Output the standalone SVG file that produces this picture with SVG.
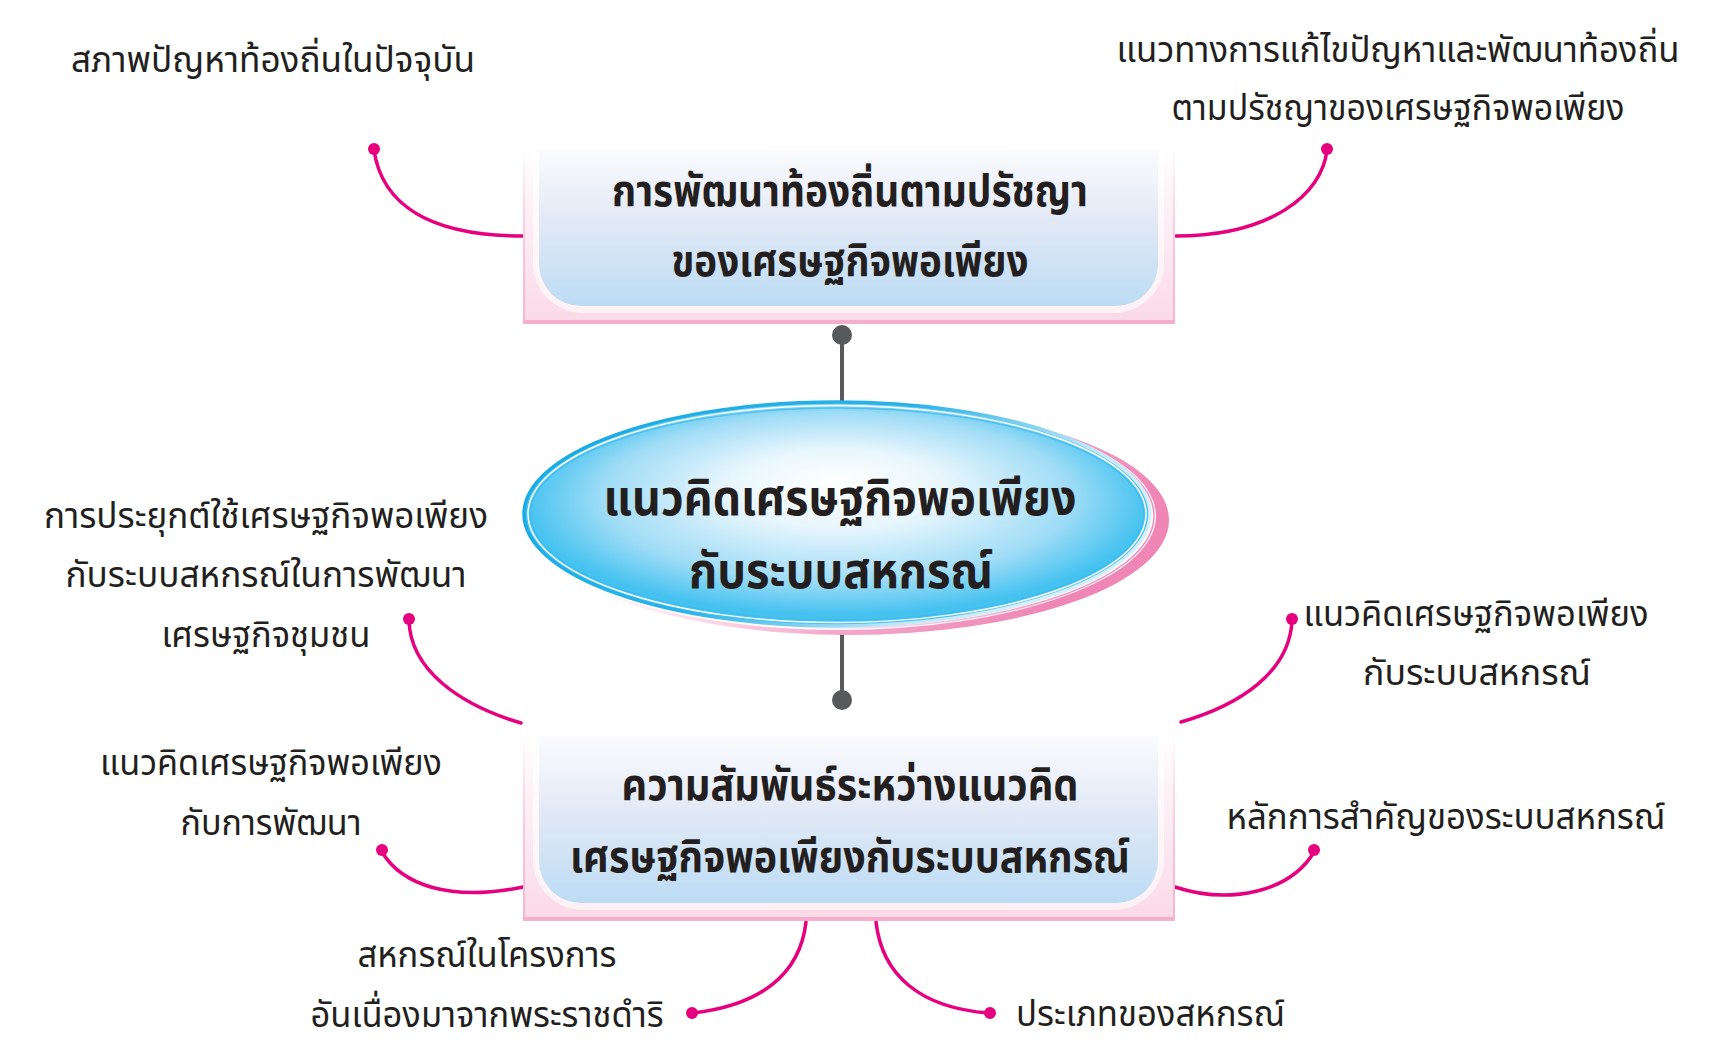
<svg xmlns="http://www.w3.org/2000/svg" width="1729" height="1053" viewBox="0 0 1729 1053">
<defs>
<style>
.lbl{font-family:"Noto Sans Thai","Noto Sans","DejaVu Sans",sans-serif;font-size:36px;fill:#231f20;text-anchor:middle}
.bx{font-family:"Noto Sans Thai","Noto Sans","DejaVu Sans",sans-serif;font-size:44px;font-weight:bold;fill:#231f20;text-anchor:middle}
.ctr{font-family:"Noto Sans Thai","Noto Sans","DejaVu Sans",sans-serif;font-size:50px;font-weight:bold;fill:#231f20;text-anchor:middle}
.mag{fill:none;stroke:#e6007e;stroke-width:3.5;stroke-linecap:round}
.magdot{fill:#e6007e}
.gray{stroke:#58595b;stroke-width:4}
.graydot{fill:#58595b}
</style>
<linearGradient id="outerG" x1="0" y1="0" x2="0" y2="1">
<stop offset="0" stop-color="#ffffff"/>
<stop offset="0.35" stop-color="#fdf0f5"/>
<stop offset="1" stop-color="#fbd9e7"/>
</linearGradient>
<linearGradient id="sideG" x1="0" y1="0" x2="0" y2="1">
<stop offset="0" stop-color="#f6b4cf" stop-opacity="0"/>
<stop offset="0.4" stop-color="#f6b4cf" stop-opacity="0.5"/>
<stop offset="1" stop-color="#f6b4cf"/>
</linearGradient>
<linearGradient id="whiteG" x1="0" y1="0" x2="0" y2="1">
<stop offset="0" stop-color="#ffffff"/>
<stop offset="1" stop-color="#fdf1f6"/>
</linearGradient>
<linearGradient id="blueG" x1="0" y1="0" x2="0" y2="1">
<stop offset="0" stop-color="#fbfbfe"/>
<stop offset="0.45" stop-color="#e2e9f6"/>
<stop offset="1" stop-color="#bcdcf4"/>
</linearGradient>
<radialGradient id="ellG" cx="0.5" cy="0.45" r="0.5" fx="0.5" fy="0.35">
<stop offset="0" stop-color="#ffffff"/>
<stop offset="0.35" stop-color="#e8f6fd"/>
<stop offset="0.75" stop-color="#9fdcf6"/>
<stop offset="1" stop-color="#45c2f0"/>
</radialGradient>
<linearGradient id="pinkG" x1="0" y1="0" x2="1" y2="0.3">
<stop offset="0.3" stop-color="#f7c3d9" stop-opacity="0"/>
<stop offset="0.7" stop-color="#f5a9ca"/>
<stop offset="1" stop-color="#ef86b5"/>
</linearGradient>
<linearGradient id="blueStroke" x1="0" y1="0" x2="1" y2="0.4">
<stop offset="0" stop-color="#14a9e3"/>
<stop offset="0.55" stop-color="#2bb3e8"/>
<stop offset="0.85" stop-color="#bfe6f7"/>
<stop offset="1" stop-color="#d6eef9"/>
</linearGradient>
<linearGradient id="pinkLine" x1="0" y1="0" x2="1" y2="0"> 
<stop offset="0.4" stop-color="#f4a0c4" stop-opacity="0"/>
<stop offset="0.8" stop-color="#f4a0c4"/>
<stop offset="1" stop-color="#f08cb8"/>
</linearGradient>
</defs>
<rect width="1729" height="1053" fill="#ffffff"/>

<g id="connectors">
<line class="gray" x1="842" y1="335" x2="842" y2="404"/>
<circle class="graydot" cx="842" cy="335" r="10"/>
<line class="gray" x1="842" y1="634" x2="842" y2="700"/>
<circle class="graydot" cx="842" cy="700" r="10"/>
<path class="mag" d="M374,150 C382,205 430,236 524,236"/>
<circle class="magdot" cx="374" cy="149" r="6"/>
<path class="mag" d="M1176,236 C1270,236 1322,195 1327,150"/>
<circle class="magdot" cx="1327" cy="149" r="6"/>
<path class="mag" d="M409,620 C410,670 460,705 521,723"/>
<circle class="magdot" cx="409" cy="619" r="6"/>
<path class="mag" d="M1181,722 C1240,705 1290,672 1292,620"/>
<circle class="magdot" cx="1292" cy="619" r="6"/>
<path class="mag" d="M382,852 C402,885 450,902 523,887"/>
<circle class="magdot" cx="382" cy="850" r="6"/>
<path class="mag" d="M1175,887 C1230,905 1290,892 1314,852"/>
<circle class="magdot" cx="1314" cy="850" r="6"/>
<path class="mag" d="M806,922 C800,975 760,1005 693,1013"/>
<circle class="magdot" cx="692" cy="1013" r="6"/>
<path class="mag" d="M876,922 C882,975 920,1008 989,1013"/>
<circle class="magdot" cx="990" cy="1013" r="6"/>
</g>

<g id="node-top">
<rect x="523" y="150" width="652" height="174" fill="url(#outerG)"/>
<rect x="523" y="150" width="2" height="174" fill="url(#sideG)"/>
<rect x="1173" y="150" width="2" height="174" fill="url(#sideG)"/>
<rect x="523" y="320" width="652" height="4" fill="#f5aecb"/>
<path d="M533,150 H1164 V263 A50,50 0 0 1 1114,313 H583 A50,50 0 0 1 533,263 Z" fill="url(#whiteG)"/>
<path d="M539,150 H1158 V264 A42,42 0 0 1 1116,306 H581 A42,42 0 0 1 539,264 Z" fill="url(#blueG)"/>
<text class="bx" x="850" y="206" textLength="476" lengthAdjust="spacingAndGlyphs">การพัฒนาท้องถิ่นตามปรัชญา</text>
<text class="bx" x="850" y="276" textLength="357" lengthAdjust="spacingAndGlyphs">ของเศรษฐกิจพอเพียง</text>
</g>

<g id="node-center">
<ellipse cx="849" cy="520" rx="320" ry="115" fill="url(#pinkG)"/>
<ellipse cx="840" cy="516" rx="316" ry="114" fill="#ffffff"/>
<ellipse cx="841" cy="516" rx="313" ry="112" fill="none" stroke="url(#pinkLine)" stroke-width="1.5"/>
<ellipse cx="837" cy="514" rx="313" ry="112" fill="url(#ellG)" stroke="url(#blueStroke)" stroke-width="3.5"/>
<ellipse cx="837" cy="514" rx="309" ry="108.5" fill="none" stroke="#ffffff" stroke-width="1.5"/>
<ellipse cx="837" cy="514" rx="306.5" ry="106" fill="none" stroke="#3dbbec" stroke-width="1.3" opacity="0.8"/>
<text class="ctr" x="840" y="515" textLength="473" lengthAdjust="spacingAndGlyphs">แนวคิดเศรษฐกิจพอเพียง</text>
<text class="ctr" x="841" y="588" textLength="304" lengthAdjust="spacingAndGlyphs">กับระบบสหกรณ์</text>
</g>

<g id="node-bottom">
<rect x="523" y="736" width="652" height="185" fill="url(#outerG)"/>
<rect x="523" y="736" width="2" height="185" fill="url(#sideG)"/>
<rect x="1173" y="736" width="2" height="185" fill="url(#sideG)"/>
<rect x="523" y="917" width="652" height="4" fill="#f5aecb"/>
<path d="M533,736 H1164 V860 A50,50 0 0 1 1114,910 H583 A50,50 0 0 1 533,860 Z" fill="url(#whiteG)"/>
<path d="M539,736 H1158 V861 A42,42 0 0 1 1116,903 H581 A42,42 0 0 1 539,861 Z" fill="url(#blueG)"/>
<text class="bx" x="850" y="800" textLength="457" lengthAdjust="spacingAndGlyphs">ความสัมพันธ์ระหว่างแนวคิด</text>
<text class="bx" x="850" y="872" textLength="560" lengthAdjust="spacingAndGlyphs">เศรษฐกิจพอเพียงกับระบบสหกรณ์</text>
</g>

<g id="label-tl"><text class="lbl" x="273" y="72" textLength="404" lengthAdjust="spacingAndGlyphs">สภาพปัญหาท้องถิ่นในปัจจุบัน</text></g>
<g id="label-tr">
<text class="lbl" x="1398" y="62" textLength="563" lengthAdjust="spacingAndGlyphs">แนวทางการแก้ไขปัญหาและพัฒนาท้องถิ่น</text>
<text class="lbl" x="1398" y="120" textLength="453" lengthAdjust="spacingAndGlyphs">ตามปรัชญาของเศรษฐกิจพอเพียง</text>
</g>
<g id="label-ml">
<text class="lbl" x="266" y="528" textLength="444" lengthAdjust="spacingAndGlyphs">การประยุกต์ใช้เศรษฐกิจพอเพียง</text>
<text class="lbl" x="266" y="587" textLength="401" lengthAdjust="spacingAndGlyphs">กับระบบสหกรณ์ในการพัฒนา</text>
<text class="lbl" x="266" y="647" textLength="209" lengthAdjust="spacingAndGlyphs">เศรษฐกิจชุมชน</text>
</g>
<g id="label-mr">
<text class="lbl" x="1476" y="626" textLength="345" lengthAdjust="spacingAndGlyphs">แนวคิดเศรษฐกิจพอเพียง</text>
<text class="lbl" x="1477" y="685" textLength="228" lengthAdjust="spacingAndGlyphs">กับระบบสหกรณ์</text>
</g>
<g id="label-bl">
<text class="lbl" x="271" y="775" textLength="342" lengthAdjust="spacingAndGlyphs">แนวคิดเศรษฐกิจพอเพียง</text>
<text class="lbl" x="271" y="835" textLength="181" lengthAdjust="spacingAndGlyphs">กับการพัฒนา</text>
</g>
<g id="label-br"><text class="lbl" x="1446" y="829" textLength="439" lengthAdjust="spacingAndGlyphs">หลักการสำคัญของระบบสหกรณ์</text></g>
<g id="label-b1">
<text class="lbl" x="487" y="967" textLength="259" lengthAdjust="spacingAndGlyphs">สหกรณ์ในโครงการ</text>
<text class="lbl" x="487" y="1027" textLength="353" lengthAdjust="spacingAndGlyphs">อันเนื่องมาจากพระราชดำริ</text>
</g>
<g id="label-b2"><text class="lbl" x="1016" y="1026" textLength="269" lengthAdjust="spacingAndGlyphs" style="text-anchor:start">ประเภทของสหกรณ์</text></g>
</svg>
